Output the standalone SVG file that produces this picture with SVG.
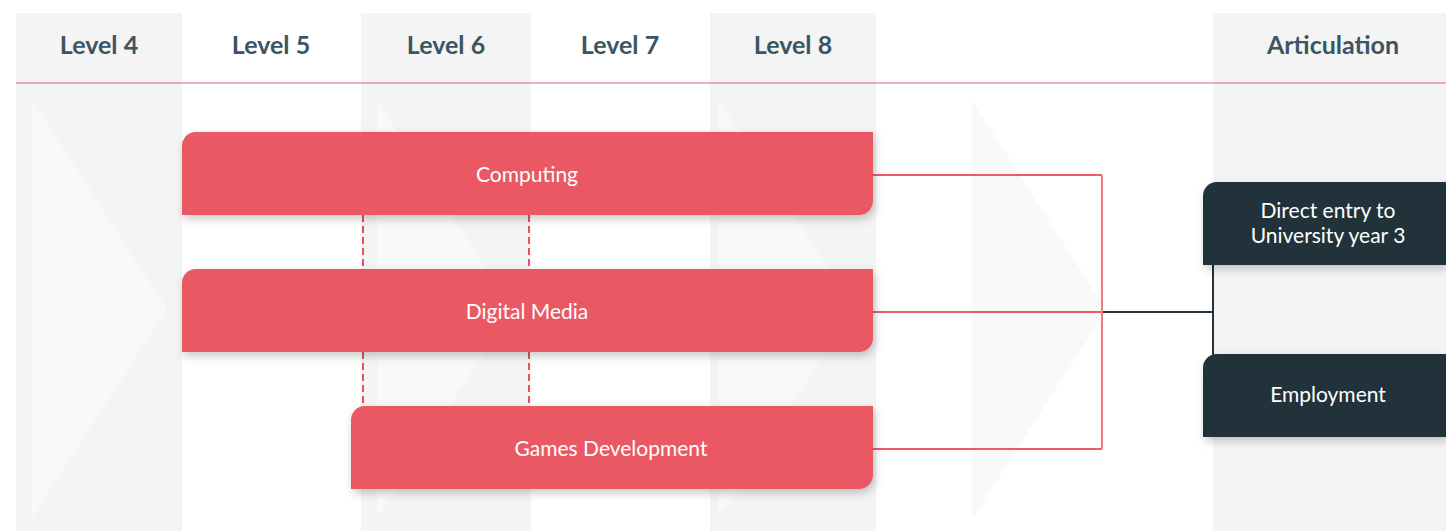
<svg xmlns="http://www.w3.org/2000/svg" width="1446" height="531" viewBox="0 0 1446 531">
  <defs>
    <filter id="shadow" x="-10%" y="-30%" width="120%" height="170%">
      <feDropShadow dx="2" dy="4" stdDeviation="5" flood-color="#000" flood-opacity="0.22"/>
    </filter>
    <style>
      .col { fill: #f4f4f4; }
      .chev { fill: #f9f9f9; }
      .hdr { font-family: Lato, "Liberation Sans", sans-serif; font-weight: 700; font-size: 25px; fill: #3b5563; text-anchor: middle; }
      .red { fill: #ea5863; filter: url(#shadow); }
      .dark { fill: #21323b; filter: url(#shadow); }
      .lbl { font-family: Lato, "Liberation Sans", sans-serif; font-size: 21px; fill: #ffffff; text-anchor: middle; }
      .rline { stroke: #ec5a65; stroke-width: 2; fill: none; }
      .rvert { stroke: #f27b80; stroke-width: 2; fill: none; }
      .dline { stroke: #22333b; stroke-width: 2; fill: none; }
      .dash { stroke: #e8505c; stroke-width: 2; stroke-dasharray: 7 4; fill: none; }
    </style>
  </defs>

  <rect x="0" y="0" width="1446" height="531" fill="#ffffff"/>

  <g id="background">
    <rect class="col" x="16" y="13" width="166" height="518"/>
    <rect class="col" x="361" y="13" width="170" height="518"/>
    <rect class="col" x="710" y="13" width="166" height="518"/>
    <rect class="col" x="1213" y="13" width="233" height="518"/>
    <polygon class="chev" points="32,100 167,309 32,518"/>
    <polygon class="chev" points="377,100 512,309 377,518"/>
    <polygon class="chev" points="719,100 854,309 719,518"/>
    <polygon class="chev" points="972,100 1106,310 972,520"/>
    <line x1="16" y1="83" x2="1446" y2="83" stroke="#e0646c" stroke-width="1.2"/>
  </g>

  <g id="header">
    <text class="hdr" x="99" y="54">Level 4</text>
    <text class="hdr" x="271" y="54">Level 5</text>
    <text class="hdr" x="446" y="54">Level 6</text>
    <text class="hdr" x="620" y="54">Level 7</text>
    <text class="hdr" x="793" y="54">Level 8</text>
    <text class="hdr" x="1333" y="54">Articulation</text>
  </g>

  <g id="connectors">
    <line class="dash" x1="363" y1="215" x2="363" y2="269"/>
    <line class="dash" x1="529" y1="215" x2="529" y2="269"/>
    <line class="dash" x1="363" y1="352" x2="363" y2="406"/>
    <line class="dash" x1="529" y1="352" x2="529" y2="406"/>
    <line class="rline" x1="873" y1="175" x2="1102" y2="175"/>
    <line class="rline" x1="873" y1="312" x2="1102" y2="312"/>
    <line class="rline" x1="873" y1="449" x2="1102" y2="449"/>
    <line class="rvert" x1="1102" y1="175" x2="1102" y2="449"/>
    <line class="dline" x1="1103" y1="312" x2="1213" y2="312"/>
    <line class="dline" x1="1213" y1="264" x2="1213" y2="355"/>
  </g>

  <g id="computing">
    <path class="red" d="M182,146 A14,14 0 0 1 196,132 H873 V201 A14,14 0 0 1 859,215 H182 Z"/>
    <text class="lbl" x="527" y="182">Computing</text>
  </g>

  <g id="digital-media">
    <path class="red" d="M182,283 A14,14 0 0 1 196,269 H873 V338 A14,14 0 0 1 859,352 H182 Z"/>
    <text class="lbl" x="527" y="319">Digital Media</text>
  </g>

  <g id="games-development">
    <path class="red" d="M351,420 A14,14 0 0 1 365,406 H873 V475 A14,14 0 0 1 859,489 H351 Z"/>
    <text class="lbl" x="611" y="456">Games Development</text>
  </g>

  <g id="direct-entry">
    <path class="dark" d="M1203,196 A14,14 0 0 1 1217,182 H1446 V265 H1203 Z"/>
    <text class="lbl" x="1328" y="218">Direct entry to</text>
    <text class="lbl" x="1328" y="243">University year 3</text>
  </g>

  <g id="employment">
    <path class="dark" d="M1203,368 A14,14 0 0 1 1217,354 H1446 V437 H1203 Z"/>
    <text class="lbl" x="1328" y="402">Employment</text>
  </g>
</svg>
